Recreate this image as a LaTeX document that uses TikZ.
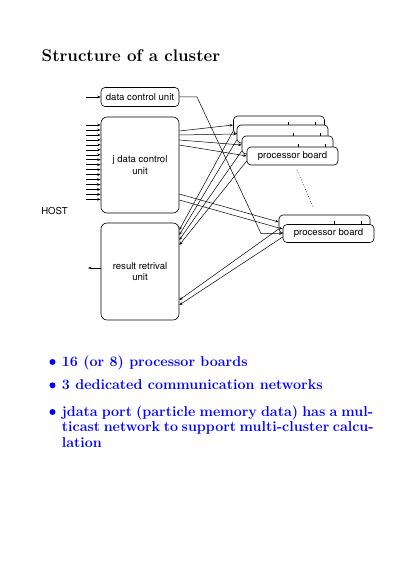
\documentclass[tikz,border=0pt]{standalone}
\usepackage{fontspec}
\newfontfamily\diagfont{TeX Gyre Heros}
\usetikzlibrary{arrows.meta,calc}
\definecolor{bblue}{RGB}{0,0,255}
\begin{document}
\begin{tikzpicture}[x=1pt,y=-1pt,
  box/.style={draw,fill=white,rounded corners=4pt,line width=0.6pt,inner sep=0pt,
    font=\diagfont\fontsize{9.6}{11.5}\selectfont,align=center},
  bigbox/.style={box,minimum width=78pt,rounded corners=6pt},
  pbox/.style={box,minimum width=91pt,minimum height=18pt},
  arr/.style={-{Stealth[length=3.5pt,width=2.6pt]},line width=0.5pt},
  tick/.style={line width=0.5pt},
  btext/.style={anchor=base west,inner sep=0pt,text=bblue,font=\bfseries\fontsize{14.3}{16}\selectfont},
  bdot/.style={circle,fill=bblue,inner sep=0pt,minimum size=6pt},
  lbl/.style={inner sep=0pt,font=\diagfont\fontsize{9.6}{11}\selectfont}]
\useasboundingbox (0,0) rectangle (414,585);

% title
\node[anchor=base west,inner sep=0pt,font=\bfseries\fontsize{16.9}{20}\selectfont] (title) at (41.5,61.5) {Structure of a cluster};

% host side units
\node[box,minimum width=78pt,minimum height=19pt] (dcu) at (140,97) {data control unit};
\node[bigbox,minimum height=96pt] (jdcu) at (140,165) {j data control\\unit};
\node[bigbox,minimum height=97pt] (rru) at (140,271.5) {result retrival\\unit};
\node[lbl] (host) at (54.5,211) {HOST};

% processor boards, group 1
\node[pbox] (pb1) at (279,125) {};
\node[pbox] (pb2) at (282.5,134) {};
\node[pbox] (pb3) at (287.5,145) {};
\node[pbox] (pb4) at (292.5,156) {processor board};
% processor boards, group 2
\node[pbox] (qb1) at (324.5,224) {};
\node[pbox] (qb2) at (328.5,233.5) {processor board};

% small ticks on board tops
\foreach \b in {pb2,pb3,pb4,qb2}{
  \draw[tick] ([xshift=52pt]\b.north west) -- ++(0,-3);
  \draw[tick] ([xshift=79pt]\b.north west) -- ++(0,-3);
}

% dotted continuation
\coordinate (dotA) at (297,170);
\coordinate (dotB) at (313,207);
\draw[dotted,line width=0.6pt] (dotA) -- (dotB);

% host inputs
\coordinate (dcuin) at (86,97);
\draw[arr] (dcuin) -- (dcu.west);
\foreach \i in {0,...,15}{
  \coordinate (in\i) at (86,{125+\i*4.96});
  \draw[arr] (in\i) -- (in\i -| jdcu.west);
}
\coordinate (rruout) at (88,268);
\draw[arr] (rruout -| rru.west) -- (rruout);

% data control unit to board
\coordinate (d1) at (197,97);
\coordinate (d2) at (261,233.5);
\draw[arr] (dcu.east) -- (d1) -- (d2) -- (qb2.west);

% j data control unit to boards
\draw[arr] ([yshift=34pt]jdcu.east) -- (pb1.west);
\draw[arr] ([yshift=30pt]jdcu.east) -- (pb2.west);
\draw[arr] ([yshift=25pt]jdcu.east) -- (pb3.west);
\draw[arr] ([yshift=20pt]jdcu.east) -- (pb4.west);
\draw[arr] ([yshift=-29pt]jdcu.east) -- ([yshift=2pt]qb1.west);
\draw[arr] ([yshift=-35pt]jdcu.east) -- ([yshift=4.5pt]qb2.west);

% boards to result retrieval unit
\draw[arr] ([yshift=-6pt]pb1.west) -- ([yshift=41.5pt]rru.east);
\draw[arr] ([yshift=-6pt]pb2.west) -- ([yshift=36.5pt]rru.east);
\draw[arr] ([yshift=-6pt]pb3.west) -- ([yshift=31.5pt]rru.east);
\draw[arr] ([yshift=-5pt]pb4.west) -- ([yshift=26.5pt]rru.east);
\draw[arr] ([yshift=-5pt]qb1.west) -- ([yshift=-28.5pt]rru.east);
\draw[arr] ([yshift=-3.5pt]qb2.west) -- ([yshift=-33.5pt]rru.east);

% bullet list
\node[bdot] (bd1) at (52.5,362) {};
\node[bdot] (bd2) at (52.5,385.3) {};
\node[bdot] (bd3) at (52.5,412) {};
\node[btext] (b1) at (61.7,366) {16 (or 8) processor boards};
\node[btext] (b2) at (61.7,389.3) {3 dedicated communication networks};
\node[btext] (b3) at (61.7,416) {\makebox[311.3pt][s]{jdata port (particle memory data) has a mul-}};
\node[btext] (b4) at (61.7,431.5) {\makebox[311.3pt][s]{ticast network to support multi-cluster calcu-}};
\node[btext] (b5) at (61.7,447.3) {lation};
\end{tikzpicture}
\end{document}
